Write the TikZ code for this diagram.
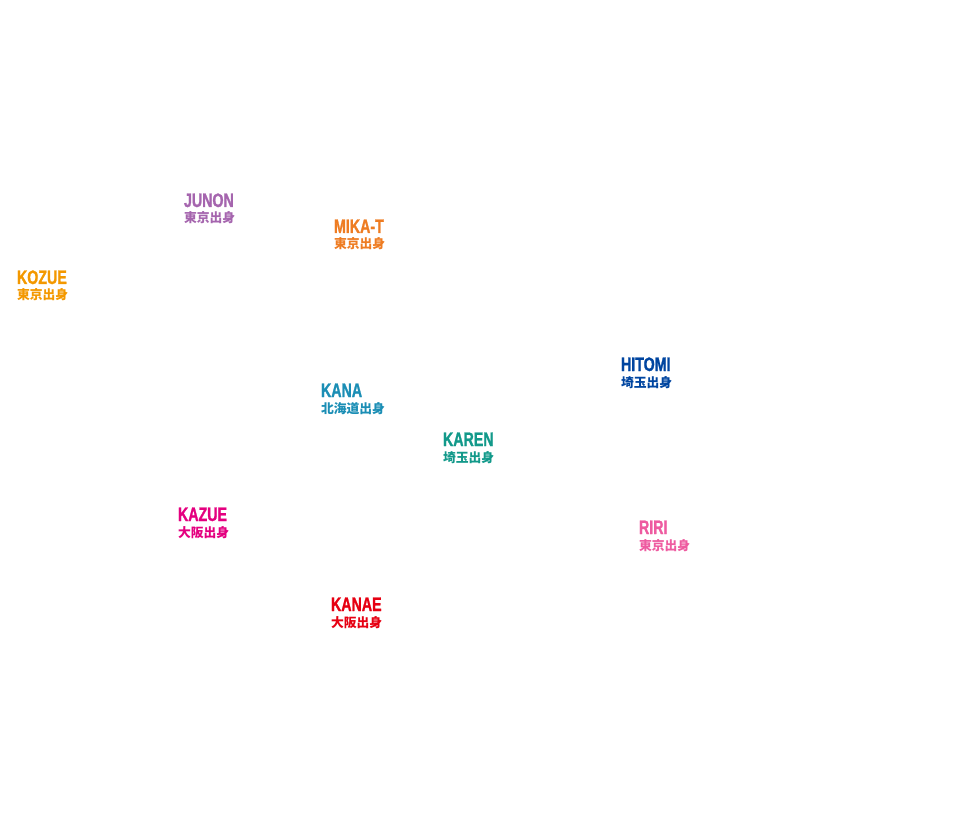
\documentclass[tikz,border=0pt]{standalone}
\usepackage{fontspec}
\usepackage{tikz}
\usetikzlibrary{positioning}
\newfontfamily\namefont[FakeStretch=0.73,FakeBold=1.2]{Liberation Sans Bold}
\newfontfamily\jpfont{Noto Sans CJK JP}
\definecolor{junon}{HTML}{A565AE}
\definecolor{mikat}{HTML}{EE7C22}
\definecolor{kozue}{HTML}{F39800}
\definecolor{kana}{HTML}{1B8EB5}
\definecolor{hitomi}{HTML}{0045A0}
\definecolor{karen}{HTML}{12998A}
\definecolor{kazue}{HTML}{E4007F}
\definecolor{riri}{HTML}{EE5BA0}
\definecolor{kanae}{HTML}{E60012}
\tikzset{
  member/.style={anchor=base west,inner sep=0pt,outer sep=0pt,
    font=\namefont\fontsize{19.5}{20}\selectfont},
  hometown/.style={anchor=base west,inner sep=0pt,outer sep=0pt,
    font=\jpfont\bfseries\fontsize{12.8}{14}\selectfont}
}
\begin{document}
\begin{tikzpicture}[x=1pt,y=-1pt]
    \useasboundingbox (0,0) rectangle (980,834);

    % top row
    \node[member,text=junon] (junon) at (184,207) {JUNON};
    \node[hometown,text=junon] (junon-from) at (184,223) {東京出身};
    \node[member,text=mikat] (mikat) at (334,233) {MIKA-T};
    \node[hometown,text=mikat] (mikat-from) at (334,249) {東京出身};
    \node[member,text=kozue] (kozue) at (17,284) {KOZUE};
    \node[hometown,text=kozue] (kozue-from) at (17,300) {東京出身};

    % middle
    \node[member,text=hitomi] (hitomi) at (621,371) {HITOMI};
    \node[hometown,text=hitomi] (hitomi-from) at (621,387) {埼玉出身};
    \node[member,text=kana] (kana) at (321,397) {KANA};
    \node[hometown,text=kana] (kana-from) at (321,413) {北海道出身};
    \node[member,text=karen] (karen) at (443,446) {KAREN};
    \node[hometown,text=karen] (karen-from) at (443,462) {埼玉出身};

    % bottom
    \node[member,text=kazue] (kazue) at (178,521) {KAZUE};
    \node[hometown,text=kazue] (kazue-from) at (178,537) {大阪出身};
    \node[member,text=riri] (riri) at (639,534) {RIRI};
    \node[hometown,text=riri] (riri-from) at (639,550) {東京出身};
    \node[member,text=kanae] (kanae) at (331,611) {KANAE};
    \node[hometown,text=kanae] (kanae-from) at (331,627) {大阪出身};
\end{tikzpicture}
\end{document}
